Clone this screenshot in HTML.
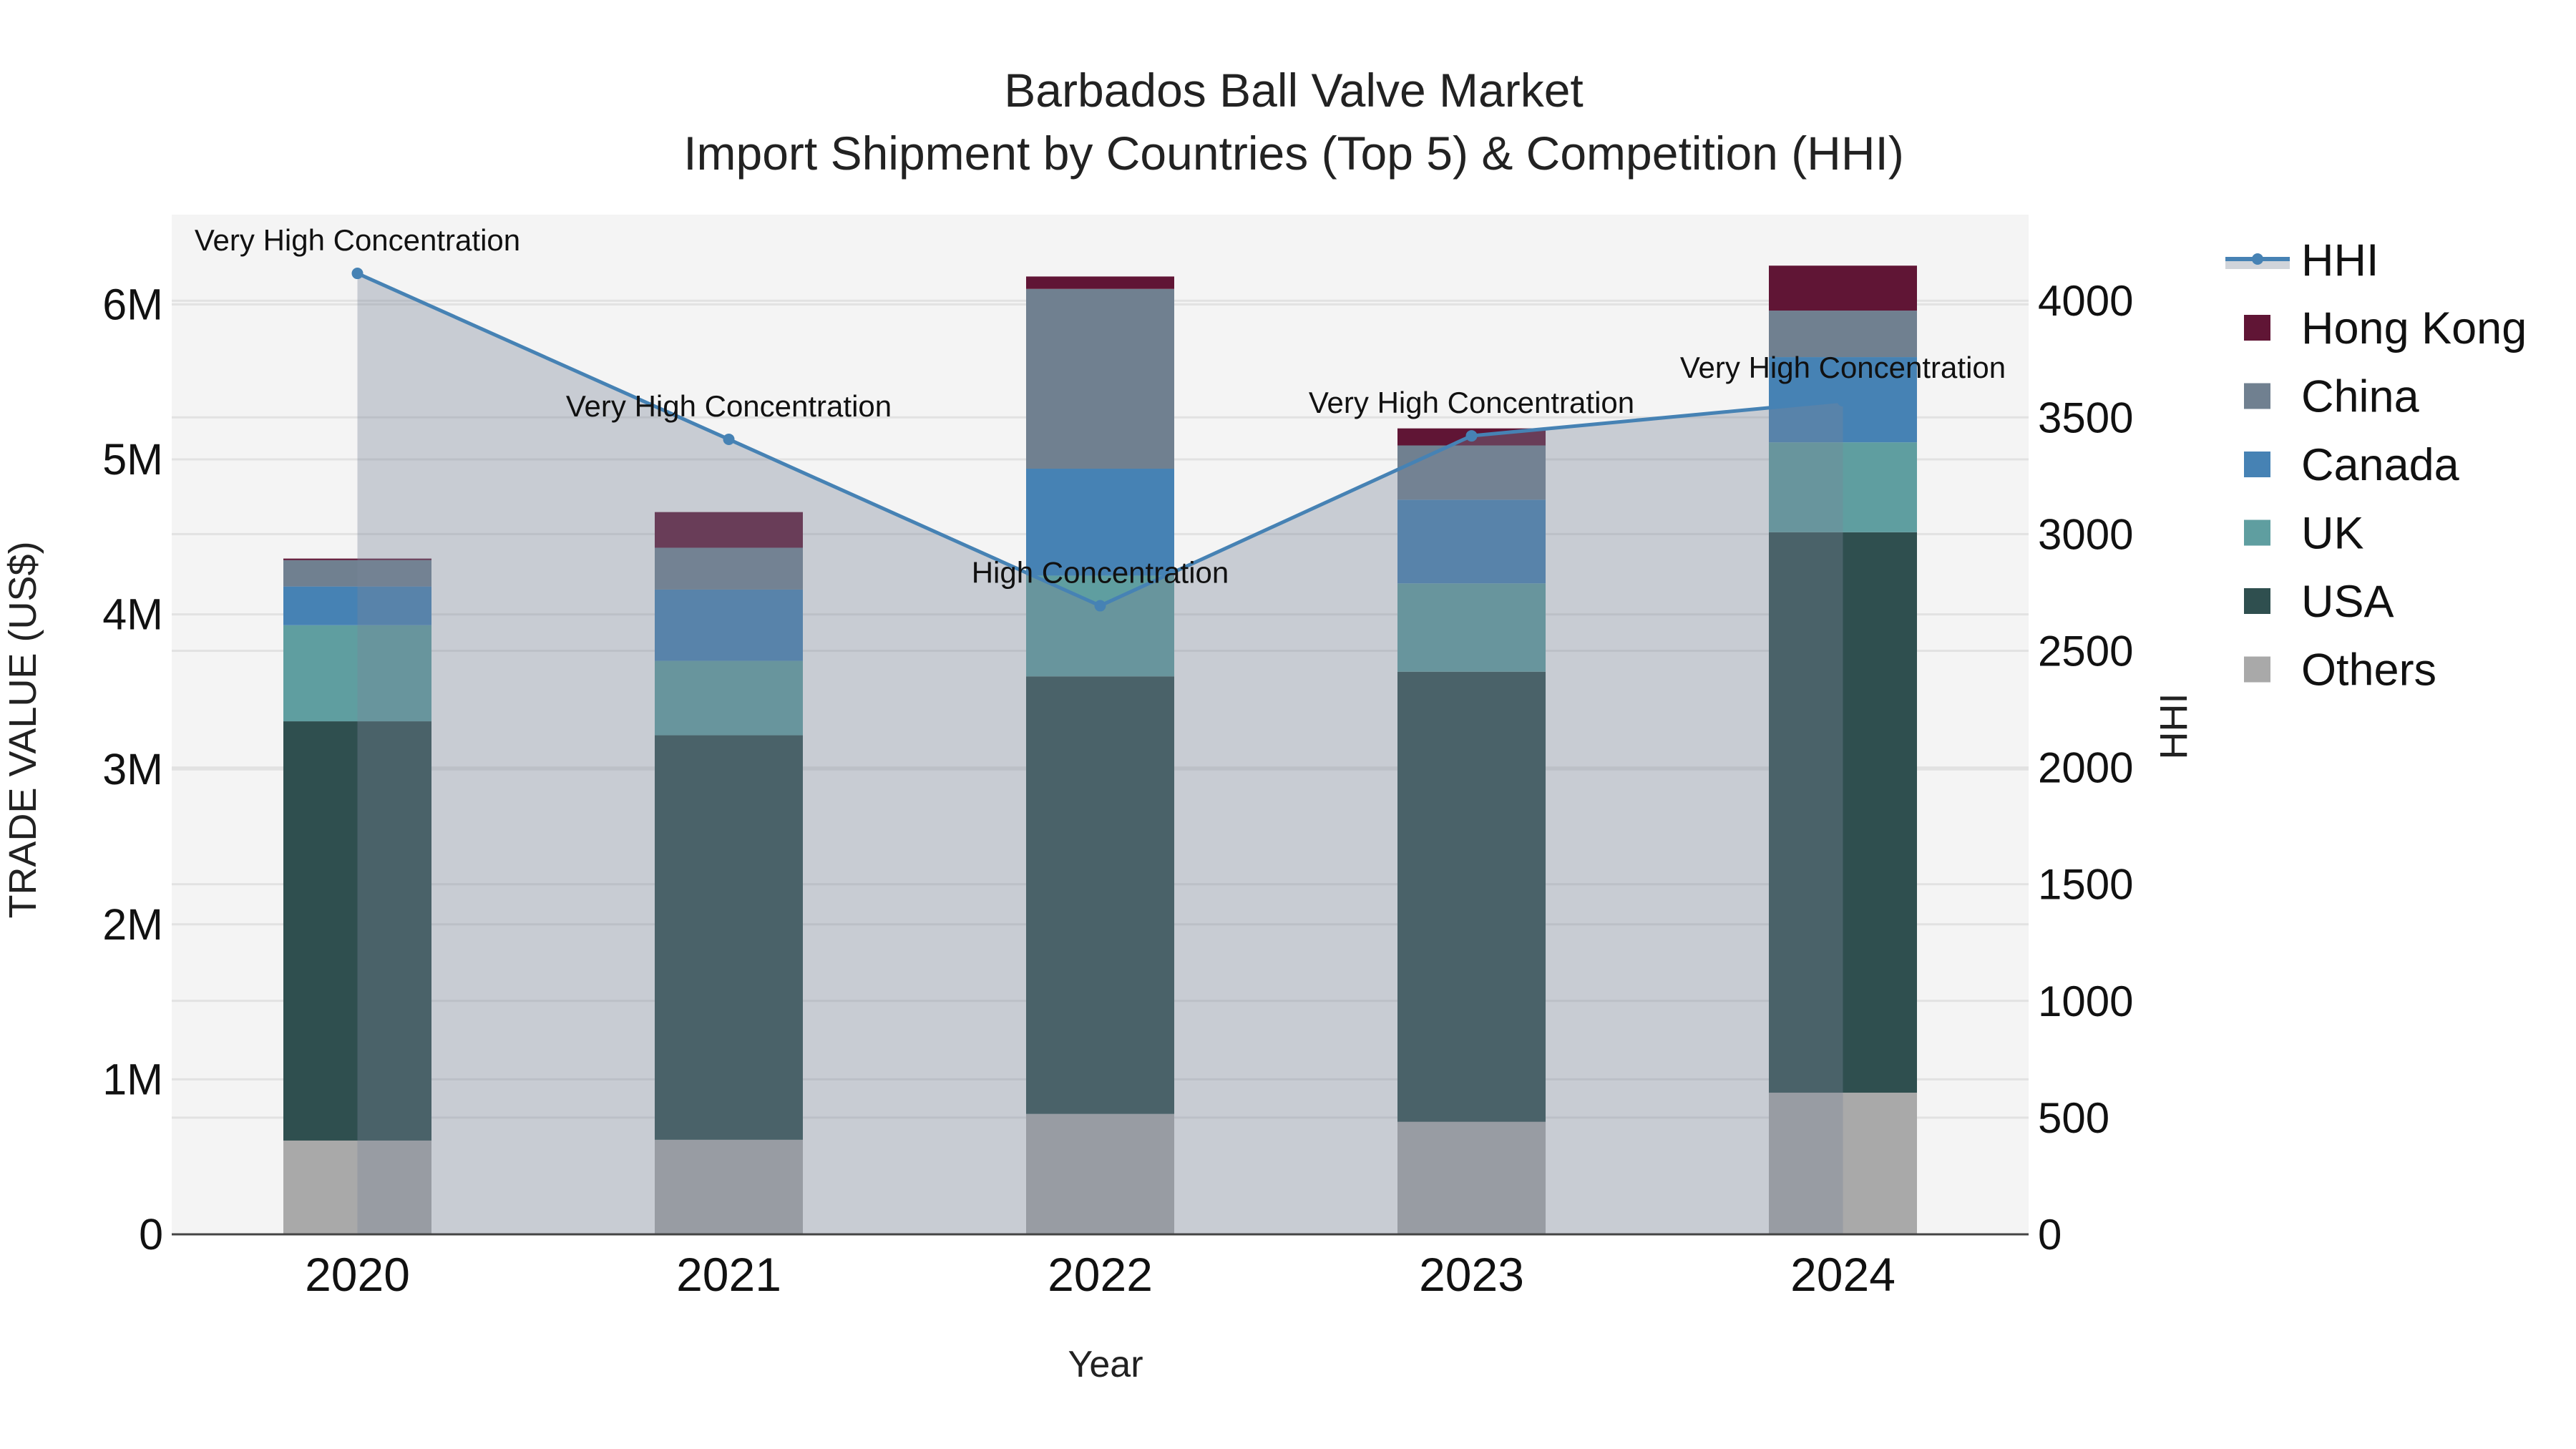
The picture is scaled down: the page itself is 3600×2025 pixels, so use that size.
<!DOCTYPE html>
<html><head><meta charset="utf-8"><style>
html,body{margin:0;padding:0;background:#fff;}
svg{display:block;font-family:"Liberation Sans",Arial,sans-serif;}
</style></head><body>
<svg id="chart" width="3600" height="2025" viewBox="0 0 3600 2025" xmlns="http://www.w3.org/2000/svg">
<rect x="0" y="0" width="3600" height="2025" fill="#fff"/>
<text x="1808" y="149" text-anchor="middle" font-size="66" fill="#222">Barbados Ball Valve Market</text>
<text x="1808" y="237" text-anchor="middle" font-size="66" fill="#222">Import Shipment by Countries (Top 5) &amp; Competition (HHI)</text>
<rect x="240" y="300" width="2595" height="1425" fill="#f4f4f4"/>
<g id="grid"></g>
<g id="bars"></g>
<g id="hhi"></g>
<g id="axes"></g>
<g id="legend"></g>
</svg>
<script>
const years = ['2020','2021','2022','2023','2024'];
const seriesNames = ['Others','USA','UK','Canada','China','Hong Kong'];
const others   = [0.605, 0.61, 0.777, 0.726, 0.914];
const usa      = [2.705, 2.61, 2.823, 2.904, 3.616];
const uk       = [0.62, 0.48, 0.65, 0.57, 0.58];
const canada   = [0.25, 0.46, 0.69, 0.54, 0.55];
const china    = [0.17, 0.27, 1.16, 0.35, 0.30];
const hongKong = [0.01, 0.23, 0.08, 0.11, 0.29];
const hhiValues = [4117, 3406, 2693, 3421, 3571];
const hhiLabels = ['Very High Concentration','Very High Concentration','High Concentration','Very High Concentration','Very High Concentration'];
const leftTicks = [0,1,2,3,4,5,6];
const leftTickLabels = ['0','1M','2M','3M','4M','5M','6M'];
const rightTicks = [0,500,1000,1500,2000,2500,3000,3500,4000];

const NS='http://www.w3.org/2000/svg';
const PL=240, PR=2835, PT=300, PB=1725;
const colors={'Others':'#a9a9a9','USA':'#2f4f4f','UK':'#5f9ea0','Canada':'#4682b4','China':'#708090','Hong Kong':'#601535'};
const seriesData=[others,usa,uk,canada,china,hongKong];
function xScale(i){return PL+(PR-PL)*(i+0.5)/years.length;}
function yLeft(v){return PB-v*216.6;}
function yRight(v){return PB-v*0.3262;}
const barW=207;
function mk(tag,attrs,parent){const e=document.createElementNS(NS,tag);for(const k in attrs)e.setAttribute(k,attrs[k]);parent.appendChild(e);return e;}
const grid=document.getElementById('grid');
rightTicks.forEach(t=>{const l=mk('line',{x1:PL,x2:PR,y1:yRight(t),y2:yRight(t),stroke:'#e2e2e2','stroke-width':3},grid);

});
leftTicks.forEach(t=>{const l=mk('line',{x1:PL,x2:PR,y1:yLeft(t),y2:yLeft(t),stroke:'#e2e2e2','stroke-width':3},grid);

});
const bars=document.getElementById('bars');
years.forEach((y,i)=>{let base=0;seriesData.forEach((arr,s)=>{const v=arr[i];const y0=yLeft(base),y1=yLeft(base+v);
const r=mk('rect',{x:xScale(i)-barW/2,y:y1,width:barW,height:Math.max(0,y0-y1),fill:colors[seriesNames[s]]},bars);


base+=v;});});
const hg=document.getElementById('hhi');
let pts=hhiValues.map((v,i)=>[xScale(i),yRight(v)]);
let d='M'+pts[0][0]+','+PB+' '+pts.map(p=>'L'+p[0]+','+p[1]).join(' ')+' L'+pts[pts.length-1][0]+','+PB+'Z';
const area=mk('path',{d:d,fill:'rgba(122,133,152,0.36)'},hg);


const line=mk('polyline',{points:pts.map(p=>p.join(',')).join(' '),fill:'none',stroke:'#4682b4','stroke-width':5},hg);


pts.forEach((p,i)=>{const c=mk('circle',{cx:p[0],cy:p[1],r:8,fill:'#4682b4'},hg);


const t=mk('text',{x:p[0],y:p[1]-32,'text-anchor':'middle','font-size':42,fill:'#111'},hg);t.textContent=hhiLabels[i];

});
const ax=document.getElementById('axes');
const bl=mk('line',{x1:PL,x2:PR,y1:PB,y2:PB,stroke:'#444','stroke-width':3},ax);


leftTicks.forEach((t,i)=>{const e=mk('text',{x:228,y:yLeft(t)+21,'text-anchor':'end','font-size':61,fill:'#111'},ax);e.textContent=leftTickLabels[i];

});
rightTicks.forEach(t=>{const e=mk('text',{x:2848,y:yRight(t)+21,'text-anchor':'start','font-size':60,fill:'#111'},ax);e.textContent=String(t);

});
years.forEach((y,i)=>{const e=mk('text',{x:xScale(i),y:1804,'text-anchor':'middle','font-size':66,fill:'#111'},ax);e.textContent=y;

});
const xt=mk('text',{x:1545,y:1924,'text-anchor':'middle','font-size':52,fill:'#222'},ax);xt.textContent='Year';


const yt=mk('text',{x:0,y:0,'text-anchor':'middle','font-size':54,fill:'#222',transform:'translate(50,1020) rotate(-90)'},ax);yt.textContent='TRADE VALUE (US$)';


const y2t=mk('text',{x:0,y:0,'text-anchor':'middle','font-size':54,fill:'#222',transform:'translate(3056,1015) rotate(-90)'},ax);y2t.textContent='HHI';


const lg=document.getElementById('legend');
const hl=mk('g',{},lg);


mk('rect',{x:3110,y:362,width:90,height:14,fill:'#d0d4da'},hl);
mk('line',{x1:3110,x2:3200,y1:362,y2:362,stroke:'#4682b4','stroke-width':6},hl);
mk('circle',{cx:3155,cy:362,r:8,fill:'#4682b4'},hl);
const ht=mk('text',{x:3216,y:385,'font-size':63,fill:'#111'},hl);ht.textContent='HHI';
const legOrder=['Hong Kong','China','Canada','UK','USA','Others'];
legOrder.forEach((n,i)=>{const g=mk('g',{},lg);


const cy=458+i*95.5;
mk('rect',{x:3136,y:cy-18,width:37,height:36,fill:colors[n]},g);
const t=mk('text',{x:3216,y:cy+22,'font-size':63,fill:'#111'},g);t.textContent=n;});
</script>
</body></html>
